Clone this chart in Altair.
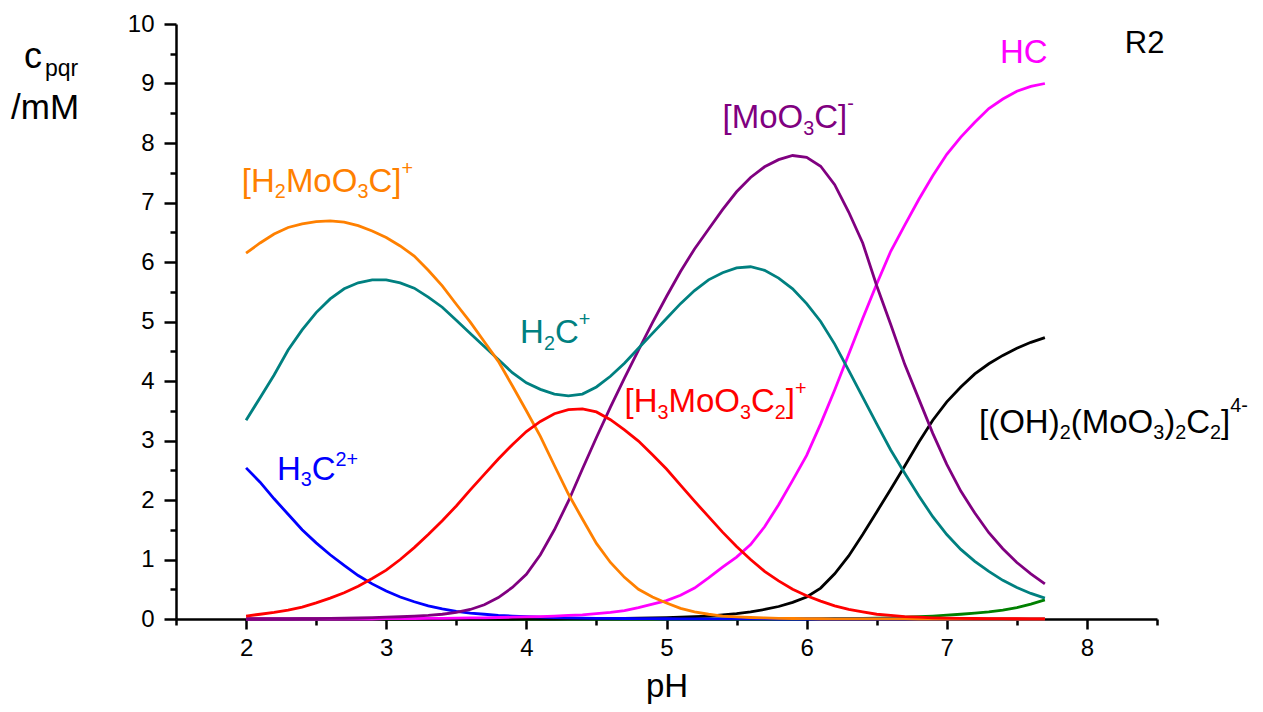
import altair as alt
import pandas as pd

FONT = "Liberation Sans"

# ---------------- data ----------------
pH = [round(2.0 + 0.1 * i, 1) for i in range(58)]  # 2.0 ... 7.7

orange = [6.15, 6.32, 6.47, 6.58, 6.64, 6.68, 6.69, 6.67, 6.61, 6.52,
          6.41, 6.27, 6.10, 5.86, 5.60, 5.29, 4.99, 4.66, 4.33, 3.92,
          3.50, 3.07, 2.58, 2.10, 1.68, 1.27, 0.95, 0.70, 0.50, 0.37,
          0.27, 0.18, 0.12, 0.08, 0.05, 0.035, 0.025, 0.018, 0.012, 0.008,
          0.006, 0.004, 0.003, 0.002, 0.002, 0.001, 0.001, 0.001, 0.0, 0.0,
          0.0, 0.0, 0.0, 0.0, 0.0, 0.0, 0.0, 0.0]
teal = [3.34, 3.72, 4.10, 4.52, 4.86, 5.15, 5.38, 5.55, 5.65, 5.70,
        5.70, 5.65, 5.56, 5.41, 5.24, 5.02, 4.80, 4.58, 4.36, 4.14,
        3.97, 3.86, 3.78, 3.75, 3.78, 3.90, 4.08, 4.30, 4.55, 4.80,
        5.05, 5.30, 5.52, 5.70, 5.82, 5.90, 5.92, 5.86, 5.73, 5.55,
        5.30, 5.00, 4.62, 4.18, 3.73, 3.28, 2.84, 2.45, 2.07, 1.72,
        1.42, 1.17, 0.97, 0.80, 0.65, 0.53, 0.43, 0.35]
red = [0.05, 0.08, 0.11, 0.15, 0.20, 0.27, 0.35, 0.44, 0.55, 0.68,
       0.82, 1.00, 1.20, 1.42, 1.65, 1.90, 2.17, 2.43, 2.69, 2.93,
       3.15, 3.32, 3.45, 3.52, 3.53, 3.48, 3.35, 3.18, 2.99, 2.76,
       2.52, 2.25, 1.98, 1.72, 1.46, 1.22, 1.00, 0.80, 0.64, 0.50,
       0.39, 0.30, 0.22, 0.16, 0.12, 0.08, 0.06, 0.04, 0.03, 0.02,
       0.015, 0.01, 0.008, 0.006, 0.005, 0.004, 0.003, 0.002]
blue = [2.54, 2.30, 2.02, 1.76, 1.50, 1.28, 1.08, 0.90, 0.73, 0.59,
        0.47, 0.37, 0.29, 0.22, 0.17, 0.13, 0.10, 0.08, 0.06, 0.05,
        0.04, 0.03, 0.025, 0.02, 0.015, 0.012, 0.01, 0.008, 0.006, 0.005,
        0.004, 0.003, 0.003, 0.002, 0.002, 0.001, 0.001, 0.001, 0.0, 0.0,
        0.0, 0.0, 0.0, 0.0, 0.0, 0.0, 0.0, 0.0, 0.0, 0.0,
        0.0, 0.0, 0.0, 0.0, 0.0, 0.0, 0.0, 0.0]
purple = [0.0, 0.0, 0.002, 0.003, 0.005, 0.007, 0.01, 0.013, 0.017, 0.022,
          0.03, 0.038, 0.048, 0.06, 0.08, 0.11, 0.16, 0.24, 0.36, 0.53,
          0.75, 1.08, 1.50, 1.98, 2.52, 3.05, 3.56, 4.05, 4.52, 4.98,
          5.42, 5.84, 6.22, 6.55, 6.88, 7.18, 7.42, 7.60, 7.72, 7.79,
          7.76, 7.61, 7.30, 6.84, 6.32, 5.60, 4.95, 4.28, 3.70, 3.12,
          2.60, 2.15, 1.78, 1.45, 1.18, 0.95, 0.76, 0.59]
magenta = [0.0, 0.0, 0.0, 0.0, 0.0, 0.0, 0.0, 0.0, 0.0, 0.0,
           0.005, 0.005, 0.008, 0.01, 0.012, 0.015, 0.018, 0.02, 0.025, 0.03,
           0.035, 0.04, 0.05, 0.06, 0.07, 0.09, 0.11, 0.14, 0.19, 0.25,
           0.31, 0.40, 0.52, 0.69, 0.87, 1.04, 1.25, 1.55, 1.92, 2.33,
           2.75, 3.28, 3.85, 4.45, 5.05, 5.63, 6.18, 6.62, 7.05, 7.45,
           7.81, 8.10, 8.35, 8.58, 8.74, 8.87, 8.95, 9.00]
black = [0.0, 0.0, 0.0, 0.0, 0.0, 0.0, 0.0, 0.0, 0.0, 0.0,
         0.0, 0.0, 0.0, 0.0, 0.0, 0.0, 0.0, 0.0, 0.0, 0.0,
         0.002, 0.003, 0.004, 0.005, 0.006, 0.008, 0.01, 0.012, 0.015, 0.018,
         0.022, 0.03, 0.04, 0.05, 0.07, 0.09, 0.12, 0.16, 0.21, 0.28,
         0.37, 0.52, 0.76, 1.06, 1.42, 1.80, 2.18, 2.57, 2.97, 3.34,
         3.65, 3.90, 4.12, 4.29, 4.43, 4.55, 4.65, 4.73]
green = [0.0] * 40 + [0.003, 0.005, 0.008, 0.01, 0.012, 0.015, 0.02, 0.03, 0.04, 0.05,
                      0.065, 0.08, 0.10, 0.12, 0.15, 0.19, 0.25, 0.32]

series = [
    ("green", green, "#008000"),
    ("black", black, "#000000"),
    ("blue", blue, "#0000FF"),
    ("magenta", magenta, "#FF00FF"),
    ("purple", purple, "#800080"),
    ("teal", teal, "#008080"),
    ("orange", orange, "#FF8000"),
    ("red", red, "#FF0000"),
]

x_major = [2, 3, 4, 5, 6, 7, 8]
x_minor = [1.5, 2.5, 3.5, 4.5, 5.5, 6.5, 7.5, 8.5]
y_major = list(range(0, 11))
y_minor = [0.5 + i for i in range(10)]

# labels: (segments, anchor pH, anchor c, color, font size, superscript raise)
labels = [
    ([("[H", "n"), ("2", "b"), ("MoO", "n"), ("3", "b"), ("C]", "n"), ("+", "p")], 1.97, 7.18, "#FF8000", 33, 0.5),
    ([("H", "n"), ("2", "b"), ("C", "n"), ("+", "p")], 3.955, 4.64, "#008080", 33, 0.5),
    ([("[H", "n"), ("3", "b"), ("MoO", "n"), ("3", "b"), ("C", "n"), ("2", "b"), ("]", "n"), ("+", "p")], 4.70, 3.48, "#FF0000", 33, 0.5),
    ([("[MoO", "n"), ("3", "b"), ("C]", "n"), ("-", "p")], 5.40, 8.25, "#800080", 33, 0.55),
    ([("HC", "n")], 7.38, 9.34, "#FF00FF", 33, 0.5),
    ([("R2", "n")], 8.27, 9.51, "#000000", 31, 0.5),
    ([("H", "n"), ("3", "b"), ("C", "n"), ("2+", "p")], 2.22, 2.34, "#0000FF", 33, 0.42),
    ([("[(OH)", "n"), ("2", "b"), ("(MoO", "n"), ("3", "b"), (")", "n"), ("2", "b"),
      ("C", "n"), ("2", "b"), ("]", "n"), ("4-", "p")], 7.23, 3.13, "#000000", 33, 0.62),
]

# ---------------- build tables ----------------
W_PLOT, H_PLOT = 981, 595
X0, X1, Y0, Y1 = 1.5, 8.5, 0.0, 10.0
PX_X = W_PLOT / (X1 - X0)
PX_Y = H_PLOT / (Y1 - Y0)

# Arial / Liberation Sans advance widths (em)
ADV = {'[': 0.278, ']': 0.278, '(': 0.333, ')': 0.333, 'H': 0.722, 'M': 0.833,
       'o': 0.556, 'O': 0.778, 'C': 0.722, 'R': 0.722, '2': 0.556, '3': 0.556,
       '4': 0.556, '+': 0.584, '-': 0.333, 'c': 0.5, 'p': 0.556, 'q': 0.556,
       'r': 0.333, '/': 0.278, 'm': 0.833}

rows = []
for name, vals, col in series:
    for x, v in zip(pH, vals):
        rows.append({"pH": x, "c": v, "species": name})
df = pd.DataFrame(rows)

lab_rows = []
for segs, ax, ay, col, fs, sup in labels:
    cursor = 0.0
    for txt, kind in segs:
        if kind == "n":
            s, dy = fs, 0.0
        elif kind == "b":
            s, dy = 0.6 * fs, 0.2 * fs
        else:
            s, dy = 0.6 * fs, -sup * fs
        lab_rows.append({"x": ax + cursor / PX_X, "y": ay - dy / PX_Y,
                         "t": txt, "s": s, "col": col})
        cursor += sum(ADV.get(ch, 0.6) for ch in txt) * s
lab_df = pd.DataFrame(lab_rows)

# y-axis title pieces in pixels relative to plot origin
ytitle_df = pd.DataFrame([
    {"xp": 24 - 176, "yp": 68 - 24, "t": "c", "s": 36},
    {"xp": 45 - 176, "yp": 76 - 24, "t": "pqr", "s": 23},
    {"xp": 11 - 176, "yp": 119 - 24, "t": "/mM", "s": 35},
])

xscale = alt.Scale(domain=[X0, X1], nice=False, zero=False)
yscale = alt.Scale(domain=[Y0, Y1], nice=False, zero=False)

common_axis = dict(grid=False, domainColor="black", tickColor="black",
                   domainWidth=2.5, tickWidth=2.5, labelFont=FONT,
                   labelColor="black", labelFontSize=24)

lines = alt.Chart(df).mark_line(strokeWidth=2.8, clip=False).encode(
    x=alt.X("pH:Q", scale=xscale,
            axis=alt.Axis(values=x_major, format="d", orient="bottom", tickSize=10,
                          labelPadding=7, title="pH", titleFont=FONT, titleFontSize=33,
                          titleFontWeight="normal", titleColor="black", titlePadding=10,
                          **common_axis)),
    y=alt.Y("c:Q", scale=yscale,
            axis=alt.Axis(values=y_major, format="d", orient="left", tickSize=12,
                          labelPadding=10, title=None, **common_axis)),
    color=alt.Color("species:N",
                    scale=alt.Scale(domain=[s[0] for s in series], range=[s[2] for s in series]),
                    legend=None),
)

minor_df = pd.DataFrame({"mx": [X0], "my": [Y0]})
minor = alt.Chart(minor_df).mark_point(opacity=0).encode(
    x=alt.X("mx:Q", scale=xscale,
            axis=alt.Axis(values=x_minor, labels=False, domain=False, orient="bottom",
                          tickSize=6, tickWidth=2.5, tickColor="black", grid=False, title=None)),
    y=alt.Y("my:Q", scale=yscale,
            axis=alt.Axis(values=y_minor, labels=False, domain=False, orient="left",
                          tickSize=6, tickWidth=2.5, tickColor="black", grid=False, title=None)),
)

text = alt.Chart(lab_df).mark_text(align="left", baseline="alphabetic", font=FONT).encode(
    x=alt.X("x:Q", scale=xscale, axis=None),
    y=alt.Y("y:Q", scale=yscale, axis=None),
    text="t:N",
    size=alt.Size("s:Q", scale=None),
    color=alt.Color("col:N", scale=None),
)

ytitle = alt.Chart(ytitle_df).mark_text(align="left", baseline="alphabetic", font=FONT,
                                         color="black").encode(
    x=alt.X("xp:Q", scale=None, axis=None),
    y=alt.Y("yp:Q", scale=None, axis=None),
    text="t:N",
    size=alt.Size("s:Q", scale=None),
)

chart = alt.layer(lines, minor, text, ytitle).resolve_axis(
    x="independent", y="independent"
).properties(
    width=W_PLOT, height=H_PLOT,
    padding={"left": 168, "top": 16, "right": 96, "bottom": 85},
    autosize=alt.AutoSizeParams(type="none"),
    background="white",
).configure_view(stroke=None)

chart.save("out.html", embed_options={"renderer": "svg", "actions": False})
